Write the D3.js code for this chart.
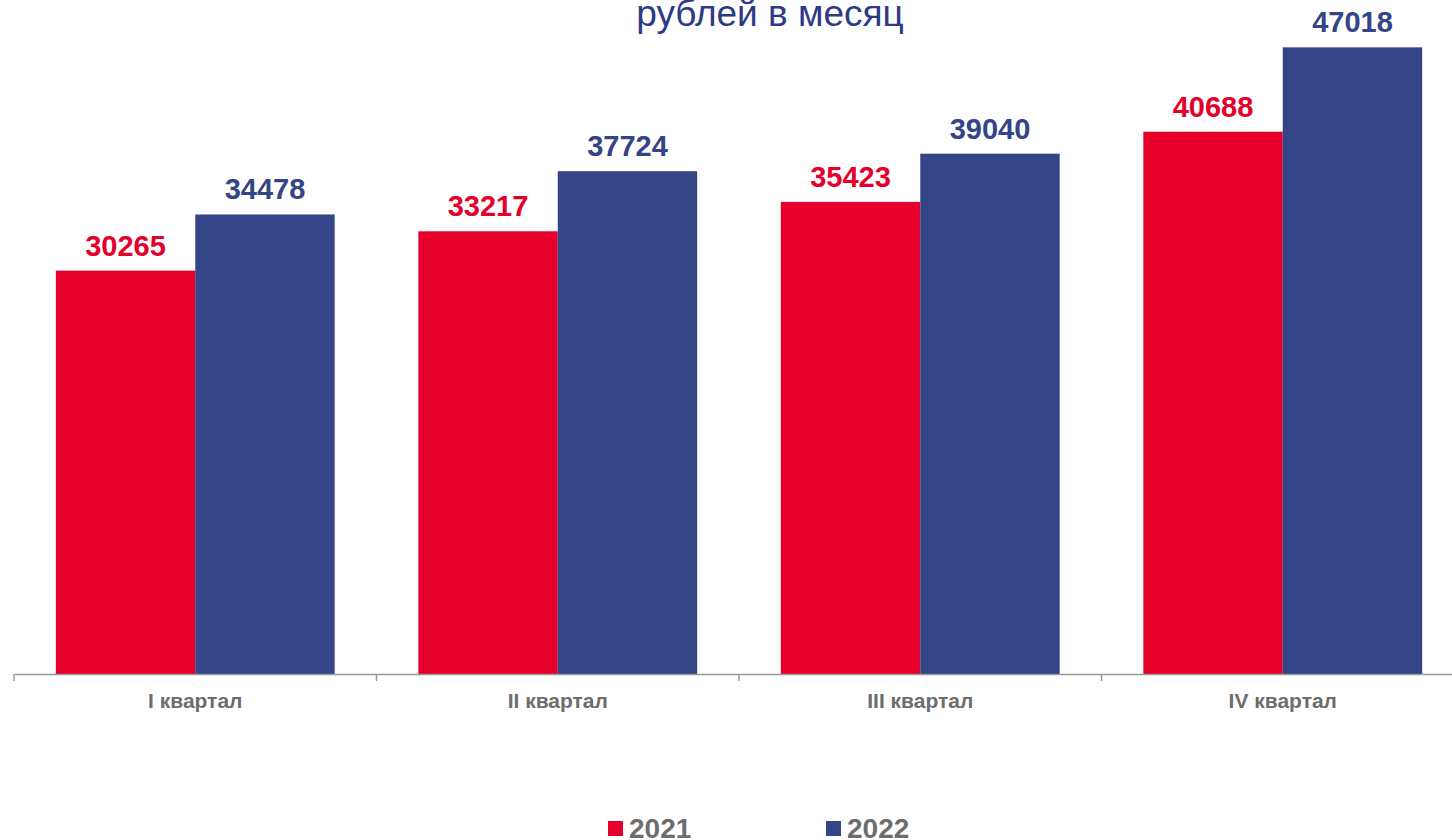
<!DOCTYPE html>
<html>
<head>
<meta charset="utf-8">
<script src="https://cdn.jsdelivr.net/npm/d3@7"></script>
<style>
  body { margin: 0; background: #fff; overflow: hidden; }
  text { font-family: "Liberation Sans", Arial, sans-serif; }
</style>
</head>
<body>
<div class="chart"></div>
<script>
var width = 1452,
    height = 840;

// data
var categories = ["I квартал", "II квартал", "III квартал", "IV квартал"];
var series = ["2021", "2022"];
var values2021 = [30265, 33217, 35423, 40688];
var values2022 = [34478, 37724, 39040, 47018];
var titleText = "рублей в месяц";

var colors = {"2021": "#e4002b", "2022": "#334487"};
var baseY = 674;

var rows = categories.map(function(c, i) {
  return {cat: c, vals: [{s: "2021", v: values2021[i]}, {s: "2022", v: values2022[i]}]};
});

var svg = d3.select(".chart").append("svg")
    .attr("width", width)
    .attr("height", height);

// title (only last line visible)
svg.append("text")
    .attr("x", 770)
    .attr("y", 26)
    .attr("text-anchor", "middle")
    .style("font-size", "37px")
    .style("fill", "#2e3a87")
    .text(titleText);

var x0 = d3.scaleBand()
    .domain(categories)
    .range([14, 14 + 4 * 362.5])
    .padding(0);

var x1 = d3.scaleBand()
    .domain(series)
    .range([0, x0.bandwidth()])
    .paddingInner(0)
    .paddingOuter(0.3);

var y = d3.scaleLinear()
    .domain([0, 50000])
    .range([baseY, 7.6]);

var groups = svg.append("g").selectAll("g")
    .data(rows)
    .enter().append("g")
    .attr("transform", function(d) { return "translate(" + x0(d.cat) + ",0)"; });

groups.selectAll("rect")
    .data(function(d) { return d.vals; })
    .enter().append("rect")
    .attr("x", function(d) { return x1(d.s); })
    .attr("width", x1.bandwidth())
    .attr("y", function(d) { return y(d.v); })
    .attr("height", function(d) { return baseY - y(d.v); })
    .attr("fill", function(d) { return colors[d.s]; });

groups.selectAll(".lbl")
    .data(function(d) { return d.vals; })
    .enter().append("text")
    .attr("class", "lbl")
    .attr("x", function(d) { return x1(d.s) + x1.bandwidth() / 2; })
    .attr("y", function(d) { return y(d.v) - 15; })
    .attr("text-anchor", "middle")
    .style("font-size", "29px")
    .style("font-weight", "bold")
    .style("fill", function(d) { return colors[d.s]; })
    .text(function(d) { return d.v; });

// x axis
var axis = d3.axisBottom(x0).tickSize(0).tickPadding(0);
var ax = svg.append("g")
    .attr("transform", "translate(0," + baseY + ")")
    .call(axis);
ax.select(".domain").attr("stroke", "#999").attr("stroke-width", 1.5);
ax.selectAll(".tick text")
    .attr("y", 34)
    .attr("dy", 0)
    .style("font-family", "'Liberation Sans', Arial, sans-serif")
    .style("font-size", "21px")
    .style("font-weight", "bold")
    .style("fill", "#6d6d6d");

// category boundary ticks
var bounds = categories.map(function(c) { return x0(c); }).concat([x0.range()[1]]);
ax.selectAll(".sep")
    .data(bounds)
    .enter().append("line")
    .attr("class", "sep")
    .attr("x1", function(d) { return d; })
    .attr("x2", function(d) { return d; })
    .attr("y1", 0)
    .attr("y2", 7)
    .attr("stroke", "#999")
    .attr("stroke-width", 1.5);

// legend
var legendX = [608, 826];
var legend = svg.append("g").selectAll("g")
    .data(series)
    .enter().append("g")
    .attr("transform", function(d, i) { return "translate(" + legendX[i] + ",821)"; });
legend.append("rect")
    .attr("width", 15)
    .attr("height", 15)
    .attr("fill", function(d) { return colors[d]; });
legend.append("text")
    .attr("x", 21)
    .attr("y", 17)
    .style("font-size", "28px")
    .style("font-weight", "bold")
    .style("fill", "#6d6d6d")
    .text(function(d) { return d; });
</script>
</body>
</html>
